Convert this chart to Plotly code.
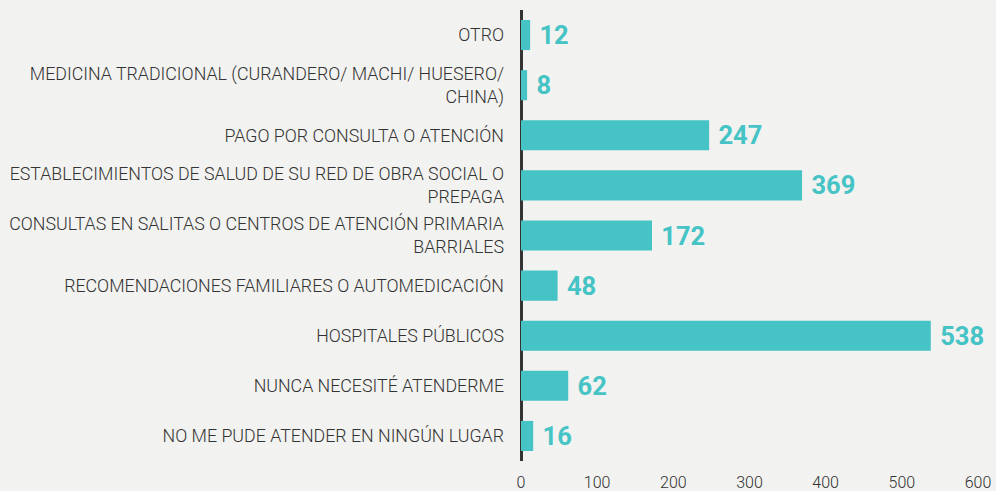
import plotly.graph_objects as go

categories = [
    "OTRO",
    "MEDICINA TRADICIONAL (CURANDERO/ MACHI/ HUESERO/<br>CHINA)",
    "PAGO POR CONSULTA O ATENCIÓN",
    "ESTABLECIMIENTOS DE SALUD DE SU RED DE OBRA SOCIAL O<br>PREPAGA",
    "CONSULTAS EN SALITAS O CENTROS DE ATENCIÓN PRIMARIA<br>BARRIALES",
    "RECOMENDACIONES FAMILIARES O AUTOMEDICACIÓN",
    "HOSPITALES PÚBLICOS",
    "NUNCA NECESITÉ ATENDERME",
    "NO ME PUDE ATENDER EN NINGÚN LUGAR",
]
values = [12, 8, 247, 369, 172, 48, 538, 62, 16]
tick_vals = [0, 100, 200, 300, 400, 500, 600]

BAR = "#45C3C5"
BG = "#F2F2F0"
LIGHT = "Roboto Light, Roboto, sans-serif"

fig = go.Figure(
    go.Bar(
        y=categories,
        x=values,
        orientation="h",
        marker=dict(color=BAR, line=dict(width=0)),
        text=values,
        texttemplate=" %{text}",
        textposition="outside",
        textfont=dict(family="Roboto", size=25.5, color=BAR, weight=700),
        cliponaxis=False,
    )
)

fig.update_layout(
    width=996,
    height=491,
    margin=dict(l=521, r=18, t=10, b=30),
    paper_bgcolor=BG,
    plot_bgcolor=BG,
    bargap=0.4,
    showlegend=False,
    font=dict(family=LIGHT, color="#333333"),
)

fig.update_yaxes(
    autorange="reversed",
    automargin=False,
    showgrid=False,
    zeroline=False,
    showline=False,
    ticks="",
    ticklabelstandoff=16,
    tickfont=dict(family=LIGHT, size=17.8, color="#333333", weight=300),
)

fig.update_xaxes(
    range=[0, 600],
    automargin=False,
    tickvals=tick_vals,
    showgrid=False,
    zeroline=True,
    zerolinecolor="#333333",
    zerolinewidth=3,
    showline=False,
    ticks="",
    ticklabelstandoff=10,
    ticklabeloverflow="allow",
    tickfont=dict(family=LIGHT, size=16, color="#333333", weight=300),
)

fig.write_html(
    "out.html",
    config={"displayModeBar": False},
    post_script="document.body.style.margin='0';document.body.style.background='#F2F2F0';",
)
